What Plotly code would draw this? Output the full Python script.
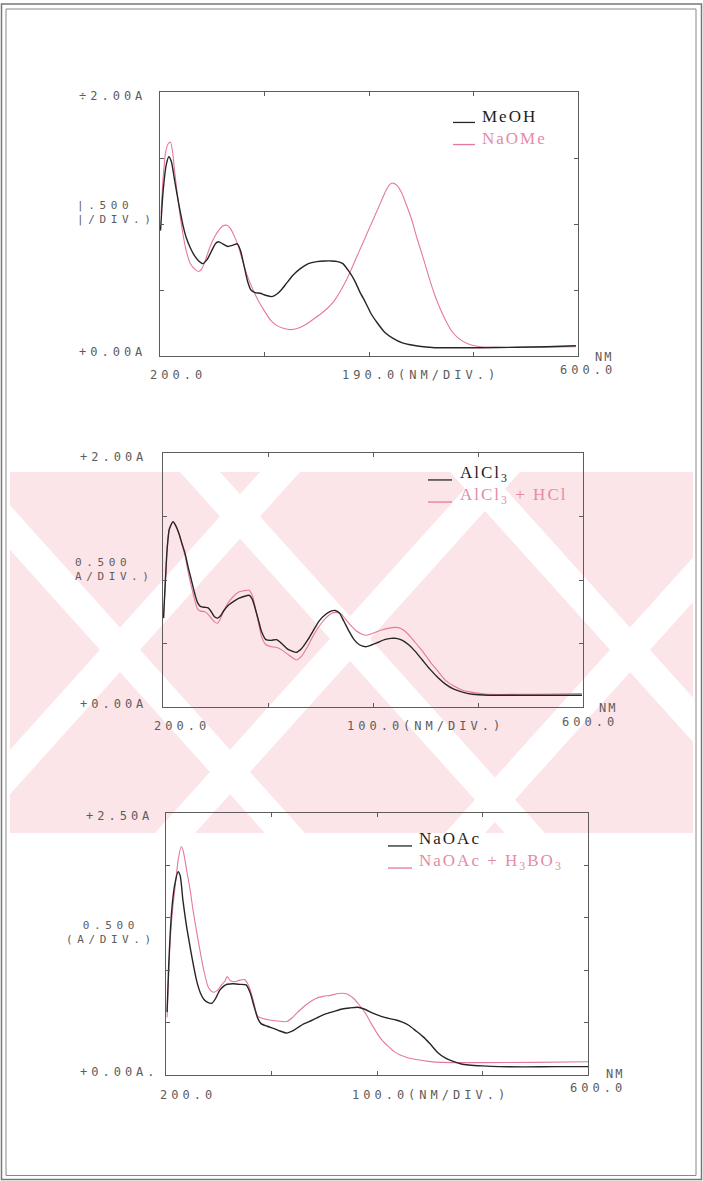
import plotly.graph_objects as go

W, H = 703, 1181

# ---------------- data (wavelength nm, absorbance A) ----------------
meoh_nm = [200.5, 203, 206, 208.5, 211, 214, 218, 222, 225, 229, 233, 237, 241, 245, 249, 253, 256, 260, 265,
           270, 274, 277, 280, 284, 287, 291, 296, 301, 307, 312, 316, 321, 327, 334, 342, 350, 358, 364, 370,
           375, 380, 386, 391, 397, 402, 408, 415, 423, 432, 441, 452, 463, 480, 507, 540, 570, 598]
meoh_a = [0.95, 1.25, 1.45, 1.51, 1.47, 1.33, 1.15, 0.99, 0.90, 0.82, 0.76, 0.72, 0.70, 0.73, 0.79, 0.85, 0.865,
          0.85, 0.83, 0.84, 0.85, 0.80, 0.70, 0.56, 0.50, 0.48, 0.475, 0.46, 0.45, 0.47, 0.50, 0.55, 0.61, 0.66,
          0.70, 0.715, 0.72, 0.72, 0.715, 0.70, 0.65, 0.575, 0.49, 0.40, 0.32, 0.25, 0.18, 0.134, 0.10, 0.083,
          0.07, 0.063, 0.062, 0.063, 0.066, 0.07, 0.078]

naome_nm = [201, 203, 205.5, 208, 210, 212, 214, 217, 221, 225, 229, 233, 237, 240, 244, 248, 252, 256, 260, 264,
            267, 271, 275, 279, 283, 288, 294, 300, 306, 312, 318, 325, 332, 340, 347, 354, 360, 366, 371, 376,
            381, 386, 391, 396, 401, 406, 411, 416, 420, 423, 427, 431, 436, 441, 446, 452, 458, 463, 468, 474,
            480, 488, 497, 507, 520, 560, 598]
naome_a = [1.08, 1.35, 1.55, 1.61, 1.62, 1.55, 1.40, 1.20, 0.97, 0.80, 0.70, 0.66, 0.64, 0.66, 0.74, 0.83, 0.90,
           0.95, 0.985, 0.99, 0.97, 0.91, 0.83, 0.72, 0.62, 0.52, 0.42, 0.34, 0.27, 0.23, 0.21, 0.20, 0.21, 0.24,
           0.28, 0.32, 0.36, 0.41, 0.47, 0.54, 0.62, 0.71, 0.80, 0.89, 0.98, 1.07, 1.16, 1.25, 1.30, 1.31, 1.29,
           1.24, 1.14, 1.03, 0.89, 0.74, 0.58, 0.46, 0.36, 0.26, 0.18, 0.12, 0.085, 0.07, 0.065, 0.066, 0.07]

alcl3_nm = [200.5, 202, 204, 206, 209.5, 212, 215, 218, 221, 224, 227, 230, 233, 236, 240, 243, 246, 249, 252,
            255, 258, 262, 267, 272, 277, 282, 285, 288, 291, 294, 298, 303, 308, 313, 318, 323, 327, 332, 338,
            343, 349, 355, 360, 364, 368, 372, 377, 382, 387, 393, 399, 405, 411, 417, 422, 428, 434, 440, 447,
            454, 462, 469, 477, 486, 495, 510, 540, 570, 599]
alcl3_a = [0.70, 0.95, 1.25, 1.40, 1.46, 1.43, 1.37, 1.29, 1.21, 1.10, 1.00, 0.90, 0.82, 0.79, 0.785, 0.78, 0.75,
           0.71, 0.70, 0.72, 0.76, 0.80, 0.83, 0.855, 0.87, 0.88, 0.85, 0.77, 0.68, 0.59, 0.53, 0.525, 0.53, 0.50,
           0.46, 0.44, 0.43, 0.46, 0.53, 0.60, 0.68, 0.73, 0.755, 0.76, 0.74, 0.68, 0.60, 0.53, 0.49, 0.475, 0.49,
           0.51, 0.53, 0.54, 0.54, 0.525, 0.49, 0.44, 0.37, 0.30, 0.23, 0.18, 0.14, 0.115, 0.10, 0.093, 0.092,
           0.092, 0.092]

alcl3hcl_nm = [200.5, 202, 204, 206, 209.5, 212, 215, 218, 221, 224, 227, 230, 233, 236, 240, 243, 246, 249, 252,
               255, 258, 262, 267, 272, 277, 282, 285, 288, 291, 294, 298, 303, 308, 313, 318, 323, 327, 332, 338,
               343, 349, 355, 360, 365, 370, 374, 379, 384, 389, 394, 400, 406, 412, 418, 424, 430, 436, 442, 448,
               455, 462, 469, 477, 486, 495, 510, 540, 570, 599]
alcl3hcl_a = [0.70, 0.95, 1.25, 1.40, 1.46, 1.43, 1.37, 1.28, 1.19, 1.06, 0.95, 0.85, 0.77, 0.755, 0.75, 0.73,
              0.70, 0.67, 0.66, 0.70, 0.76, 0.82, 0.87, 0.905, 0.915, 0.92, 0.88, 0.78, 0.66, 0.55, 0.49, 0.475,
              0.47, 0.45, 0.42, 0.39, 0.37, 0.40, 0.48, 0.56, 0.64, 0.70, 0.735, 0.745, 0.73, 0.69, 0.64, 0.60,
              0.575, 0.565, 0.58, 0.60, 0.615, 0.625, 0.625, 0.60, 0.55, 0.49, 0.43, 0.35, 0.28, 0.21, 0.165,
              0.13, 0.115, 0.10, 0.10, 0.102, 0.105]

naoac_nm = [201, 202.5, 204, 205.5, 208, 211.5, 213.5, 216, 219, 222, 225, 229, 232.7, 236, 240, 243.6, 247, 251,
            255, 258, 264, 270, 276, 280, 283.6, 287, 290, 296, 302, 308, 314.5, 320, 326, 331, 338, 345, 352, 360,
            367, 374, 382, 389, 396, 404, 411, 418, 424, 430, 437, 443.6, 450, 458, 465, 473, 480, 487, 500, 516,
            540, 570, 600]
naoac_a = [0.60, 1.03, 1.35, 1.58, 1.80, 1.94, 1.90, 1.67, 1.45, 1.27, 1.10, 0.90, 0.78, 0.72, 0.69, 0.685, 0.73,
           0.81, 0.85, 0.866, 0.87, 0.865, 0.86, 0.78, 0.65, 0.54, 0.49, 0.465, 0.445, 0.42, 0.40, 0.42, 0.46,
           0.49, 0.52, 0.555, 0.585, 0.61, 0.63, 0.64, 0.646, 0.625, 0.59, 0.56, 0.54, 0.525, 0.505, 0.475, 0.42,
           0.366, 0.30, 0.21, 0.16, 0.127, 0.105, 0.096, 0.087, 0.08, 0.078, 0.08, 0.08]

naoach3bo3_nm = [201, 202.5, 204, 206.5, 209, 211.5, 214.5, 216, 218, 220, 223, 225.5, 229, 232.7, 236, 240, 243,
                 245.5, 249, 252.7, 256, 258, 261, 265.5, 270, 274.5, 277, 280, 283, 287, 292, 298, 306, 314.5,
                 320, 327, 334, 342, 349, 356, 362, 367, 372, 378, 383, 389, 394, 400, 405, 411, 416, 422, 429,
                 436, 449, 462, 500, 550, 600]
naoach3bo3_a = [0.55, 0.95, 1.29, 1.60, 1.83, 2.05, 2.18, 2.15, 2.05, 1.93, 1.76, 1.58, 1.37, 1.16, 0.99, 0.84,
                0.80, 0.79, 0.81, 0.86, 0.90, 0.94, 0.90, 0.89, 0.905, 0.91, 0.88, 0.81, 0.70, 0.56, 0.54, 0.525,
                0.515, 0.51, 0.55, 0.62, 0.68, 0.73, 0.75, 0.76, 0.775, 0.78, 0.77, 0.73, 0.67, 0.59, 0.50, 0.40,
                0.33, 0.27, 0.225, 0.19, 0.165, 0.15, 0.13, 0.12, 0.118, 0.12, 0.127]

x_range = [200, 600]
y_max = [2.0, 2.0, 2.5]
legend_names = [["MeOH", "NaOMe"],
                ["AlCl<sub>3</sub>", "AlCl<sub>3</sub> + HCl"],
                ["NaOAc", "NaOAc + H<sub>3</sub>BO<sub>3</sub>"]]
top_labels = ["÷2.00A", "+2.00A", "+2.50A"]
bottom_labels = ["+0.00A", "+0.00A", "+0.00A."]
div_labels = [["|.500", "|/DIV.)"], ["0.500", "A/DIV.)"], ["0.500", "(A/DIV.)"]]
x_mid_labels = ["190.0(NM/DIV.)", "100.0(NM/DIV.)", "100.0(NM/DIV.)"]

series = [
    (naome_nm, naome_a, meoh_nm, meoh_a),
    (alcl3hcl_nm, alcl3hcl_a, alcl3_nm, alcl3_a),
    (naoach3bo3_nm, naoach3bo3_a, naoac_nm, naoac_a),
]

# ---------------- layout geometry (pixels) ----------------
boxes = [(160, 578, 92, 356), (163, 583, 453, 707), (166, 588, 813, 1075)]


def px(x):
    return x / W


def py(y):
    return 1 - y / H


BLACK = "#262626"
PINK = "#e57a97"
PINK_TXT = "#e58ba4"
GRAY = "#5c5c5c"
WM = "#fce5e8"

fig = go.Figure()
layout = dict(width=W, height=H, margin=dict(l=0, r=0, t=0, b=0), autosize=False,
              paper_bgcolor="white", plot_bgcolor="rgba(0,0,0,0)", showlegend=False)

shapes = []
annotations = []

# watermark band with white diagonal stripes
wm_top, wm_bot = 472, 833
shapes.append(dict(type="rect", xref="paper", yref="paper", x0=px(10), x1=px(693), y0=py(wm_bot), y1=py(wm_top),
                   fillcolor=WM, line=dict(width=0), layer="below"))
stripes = [(-40, 0.9), (280, -0.9), (200, 0.9), (500, -0.9), (470, 0.9), (790, -0.9)]
sw = 40
for xc, s in stripes:
    dy = wm_bot - wm_top
    pts = [(xc - sw / 2, wm_top), (xc + sw / 2, wm_top), (xc + sw / 2 + s * dy, wm_bot), (xc - sw / 2 + s * dy, wm_bot)]
    path = "M " + " L ".join(f"{px(a):.5f},{py(b):.5f}" for a, b in pts) + " Z"
    shapes.append(dict(type="path", xref="paper", yref="paper", path=path, fillcolor="white",
                       line=dict(width=0), layer="below"))


def mono(text, x, y, xanchor="center", size=12, ls=4, align="left"):
    annotations.append(dict(text=f'<span style="letter-spacing:{ls}px">{text}</span>', x=px(x), y=py(y),
                            xref="paper", yref="paper", xanchor=xanchor, yanchor="middle", showarrow=False,
                            align=align, font=dict(family="DejaVu Sans Mono", size=size, color=GRAY)))


label_pos = [
    dict(top=(148, 96), bot=(148, 352), div=(75, 212, "left", "left"), x200=(178, 375), xmid=(420, 375),
         x600=(588, 370), nm=(615, 357)),
    dict(top=(149, 457), bot=(149, 704), div=(73, 569, "left", "left"), x200=(182, 726), xmid=(425, 726),
         x600=(590, 722), nm=(619, 708)),
    dict(top=(155, 816), bot=(161, 1072), div=(111, 932, "center", "center"), x200=(188, 1095), xmid=(430, 1095),
         x600=(598, 1088), nm=(626, 1074)),
]
legend_pos = [((453, 475), 480, 127.5), ((428, 452), 458, 485), ((388, 412), 417, 851)]
LEG_SIZE = 17
LEG_STEP = LEG_SIZE * 1.3

for i in range(3):
    k = "" if i == 0 else str(i + 1)
    l, r, t, b = boxes[i]
    layout["xaxis" + k] = dict(domain=[px(l), px(r)], anchor="y" + k, range=x_range, dtick=100, tick0=200,
                               showgrid=False, zeroline=False, showline=True, linecolor=GRAY, linewidth=1.2,
                               mirror="ticks", ticks="inside", ticklen=4, tickcolor=GRAY, showticklabels=False,
                               fixedrange=True)
    layout["yaxis" + k] = dict(domain=[py(b), py(t)], anchor="x" + k, range=[0, y_max[i]], dtick=0.5, tick0=0,
                               showgrid=False, zeroline=False, showline=True, linecolor=GRAY, linewidth=1.2,
                               mirror="ticks", ticks="inside", ticklen=4, tickcolor=GRAY, showticklabels=False,
                               fixedrange=True)
    pnm, pa, bnm, ba = series[i]
    fig.add_trace(go.Scatter(x=pnm, y=pa, xaxis="x" + k, yaxis="y" + k, mode="lines", name=legend_names[i][1],
                             line=dict(color=PINK, width=1.1, shape="spline", smoothing=0.6), hoverinfo="skip"))
    fig.add_trace(go.Scatter(x=bnm, y=ba, xaxis="x" + k, yaxis="y" + k, mode="lines", name=legend_names[i][0],
                             line=dict(color=BLACK, width=1.4, shape="spline", smoothing=0.6), hoverinfo="skip"))

    lp = label_pos[i]
    mono(top_labels[i], *lp["top"], xanchor="right")
    mono(bottom_labels[i], *lp["bot"], xanchor="right")
    dx, dy_, xa, al = lp["div"]
    mono(div_labels[i][0] + "<br>" + div_labels[i][1], dx, dy_, xanchor=xa, size=11, ls=4.6, align=al)
    mono("200.0", *lp["x200"])
    mono(x_mid_labels[i], *lp["xmid"])
    mono("600.0", *lp["x600"])
    mono("NM", *lp["nm"], xanchor="right", ls=2)

    (lx0, lx1), tx, yc = legend_pos[i]
    y1, y2 = yc - LEG_STEP / 2, yc + LEG_STEP / 2
    for yy, col in ((y1, BLACK), (y2, PINK)):
        shapes.append(dict(type="line", xref="paper", yref="paper", x0=px(lx0), x1=px(lx1), y0=py(yy + 6),
                           y1=py(yy + 6), line=dict(color=col, width=1.3)))
    leg_text = (f'<span style="color:#1e1e1e">{legend_names[i][0]}</span><br>'
                f'<span style="color:{PINK_TXT}">{legend_names[i][1]}</span>')
    annotations.append(dict(text=f'<span style="letter-spacing:2px">{leg_text}</span>', x=px(tx), y=py(yc),
                            xref="paper", yref="paper", xanchor="left", yanchor="middle", align="left",
                            showarrow=False, font=dict(family="Liberation Serif", size=LEG_SIZE, color="#1e1e1e")))

# page double border
shapes.append(dict(type="rect", xref="paper", yref="paper", x0=px(1.5), x1=px(701.5), y0=py(1179.5), y1=py(4),
                   line=dict(color="#777", width=1.5), layer="above"))
shapes.append(dict(type="rect", xref="paper", yref="paper", x0=px(6), x1=px(696), y0=py(1175.5), y1=py(9),
                   line=dict(color="#888", width=1), layer="above"))

layout["shapes"] = shapes
layout["annotations"] = annotations
fig.update_layout(**layout)
fig.write_html("out.html", config={"displayModeBar": False},
               post_script="document.body.style.margin='0';document.body.style.padding='0';")
